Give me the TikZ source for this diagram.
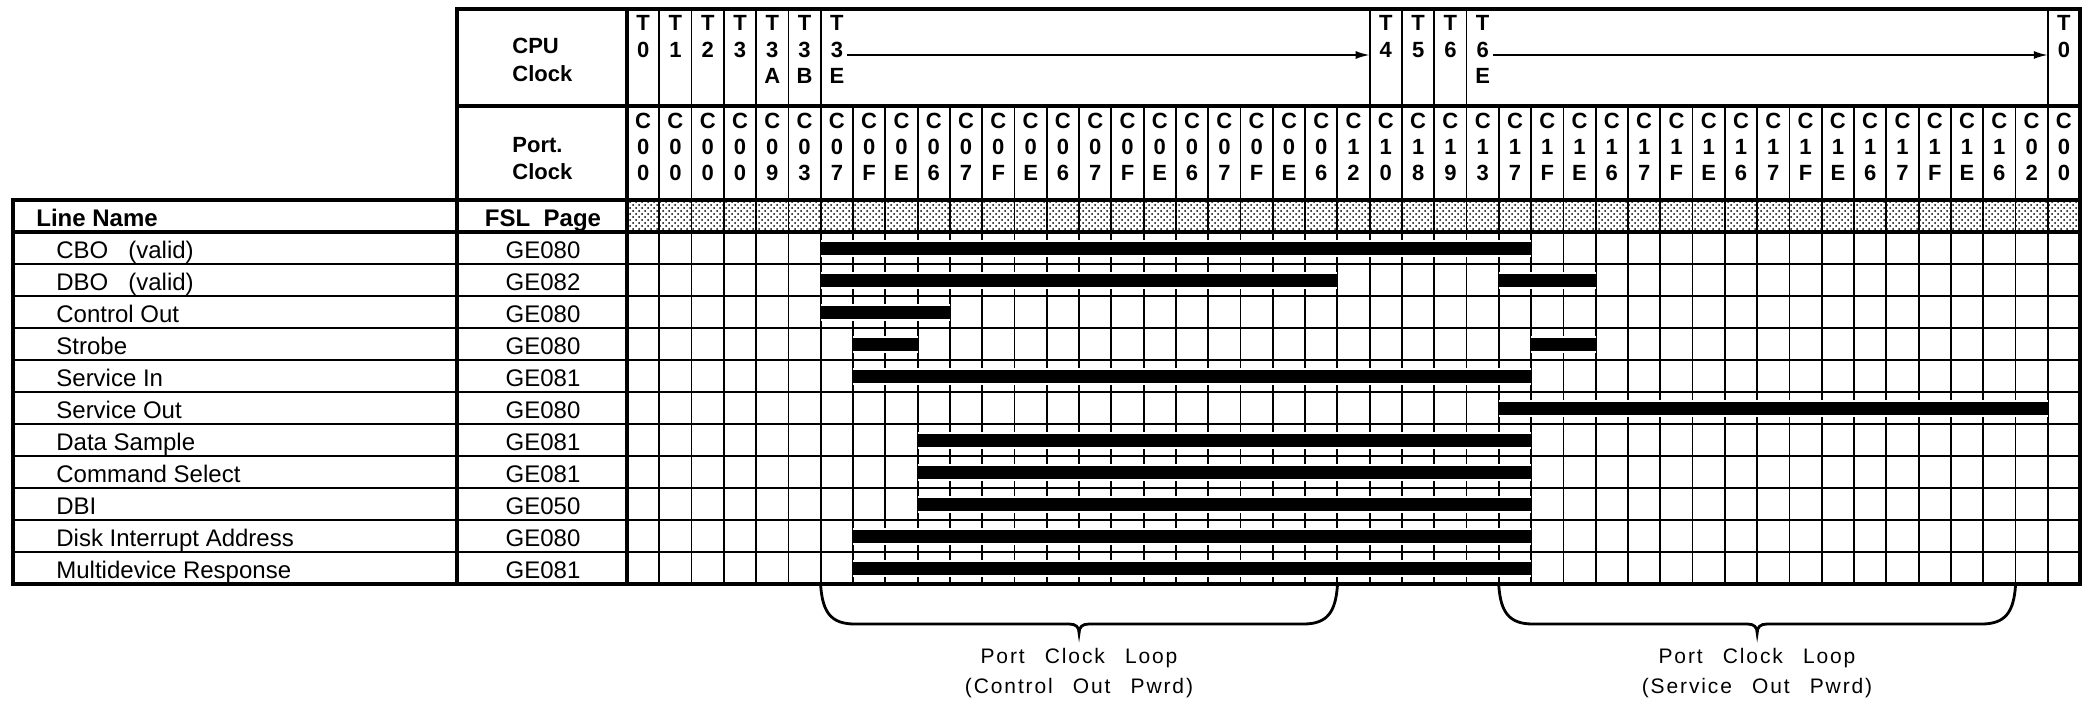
\documentclass[tikz,border=0pt]{standalone}
\usepackage{fontspec}
\setmainfont{Liberation Sans}
\newfontfamily\loopfont[LetterSpace=9,WordSpace=2.6]{Liberation Sans}
\usetikzlibrary{arrows.meta, patterns}

\tikzset{
  gridline/.style={line width=0.9pt},
  frameline/.style={line width=1.6pt},
  clockchar/.style={font=\bfseries\fontsize{11}{12}\selectfont, inner sep=0pt, text height=7.9pt, text depth=0pt},
  headtext/.style={font=\bfseries\fontsize{11}{12}\selectfont, inner sep=0pt, anchor=west, text height=7.9pt, text depth=0pt},
  colhead/.style={font=\bfseries\fontsize{12}{13}\selectfont, inner sep=0pt, text height=8.6pt, text depth=0pt},
  linename/.style={font=\fontsize{12}{13}\selectfont, inner sep=0pt, anchor=west, text height=8.6pt, text depth=0pt},
  fslpage/.style={font=\fontsize{12}{13}\selectfont, inner sep=0pt, text height=8.6pt, text depth=0pt},
  sigbar/.style={fill=black},
  sighalo/.style={fill=white},
  looptext/.style={font=\loopfont\fontsize{10.5}{12}\selectfont, inner sep=0pt},
  braceline/.style={line width=1.4pt, line cap=round},
  spanarrow/.style={line width=0.9pt, -{Latex[length=7pt,width=4pt]}}
}

\begin{document}
\begin{tikzpicture}[x=0.5pt, y=-0.5pt] % one unit = one pixel of the sheet, y runs downwards
  \useasboundingbox (0,0) rectangle (2093,712);
  \def\cw{32.29} % column width

  % 1. Stippled band next to FSL Page
  \fill[pattern=crosshatch dots, pattern color=black] (627,200) rectangle (2080,232);

  % 2. Grid lines
  \foreach \k in {1,...,44}
    \draw[gridline] ({627+\k*\cw},106) -- ({627+\k*\cw},584);
  \foreach \k in {1,...,6,23,24,25,26,44}
    \draw[gridline] ({627+\k*\cw},9) -- ({627+\k*\cw},106);
  \foreach \r in {1,...,10}
    \draw[gridline] (13,{232+32*\r}) -- (2080,{232+32*\r});

  % 3. Signal bars (row / first column / last column)
  \foreach \r/\a/\b in {1/7/28, 2/7/22, 2/28/30, 3/7/10, 4/8/9, 4/29/30, 5/8/28,
                        6/28/44, 7/10/28, 8/10/28, 9/10/28, 10/8/28, 11/8/28} {
    \fill[sighalo] ({627+(\a-1)*\cw},{216+32*\r-8.5}) rectangle ({627+\b*\cw},{216+32*\r+8.5});
    \fill[sigbar] ({627+(\a-1)*\cw},{216+32*\r-6.5}) rectangle ({627+\b*\cw},{216+32*\r+6.5});
  }

  % 4. Frames
  \draw[frameline] (457,9) rectangle (2080,584);
  \draw[frameline] (13,200) rectangle (2080,584);
  \draw[frameline] (13,232) -- (2080,232);
  \draw[frameline] (457,106) -- (2080,106);
  \draw[frameline] (627,9) -- (627,584);

  % 5. Clock headings
  \node[headtext] (cpu) at (512,46) {CPU};
  \node[headtext] (cpuclock) at (512,74) {Clock};
  \node[headtext] (port) at (512,145) {Port.};
  \node[headtext] (portclock) at (512,172) {Clock};

  \foreach \c/\d in {1/0,2/1,3/2,4/3,5/3,6/3,7/3,24/4,25/5,26/6,27/6,45/0} {
    \node[clockchar] (cpuT\c) at ({627+(\c-0.5)*\cw},23) {T};
    \node[clockchar] (cpuD\c) at ({627+(\c-0.5)*\cw},50) {\d};
  }
  \foreach \c/\l in {5/A,6/B,7/E,27/E}
    \node[clockchar] (cpuL\c) at ({627+(\c-0.5)*\cw},76) {\l};

  \coordinate (t3eEnd) at ({627+23*\cw},55);
  \coordinate (t6eEnd) at ({627+44*\cw},55);
  \draw[spanarrow] (cpuD7.east) ++(4,5) -- (t3eEnd);
  \draw[spanarrow] (cpuD27.east) ++(4,5) -- (t6eEnd);

  \foreach \a/\b [count=\i] in {0/0,0/0,0/0,0/0,0/9,0/3,
      0/7,0/F,0/E,0/6,0/7,0/F,0/E,0/6,0/7,0/F,0/E,0/6,0/7,0/F,0/E,0/6,
      1/2,1/0,1/8,1/9,1/3,
      1/7,1/F,1/E,1/6,1/7,1/F,1/E,1/6,1/7,1/F,1/E,1/6,1/7,1/F,1/E,1/6,
      0/2,0/0} {
    \node[clockchar] (portC\i) at ({627+(\i-0.5)*\cw},121) {C};
    \node[clockchar] (portA\i) at ({627+(\i-0.5)*\cw},147) {\a};
    \node[clockchar] (portB\i) at ({627+(\i-0.5)*\cw},173) {\b};
  }

  % 6. Line names and FSL pages
  \node[colhead, anchor=west] (linehead) at (36,218) {Line Name};
  \node[colhead] (fslhead) at (543,218) {FSL\ \ Page};
  \foreach \name/\page [count=\r] in {CBO\ \ \ (valid)/GE080, DBO\ \ \ (valid)/GE082,
      Control Out/GE080, Strobe/GE080, Service In/GE081, Service Out/GE080,
      Data Sample/GE081, Command Select/GE081, DBI/GE050,
      Disk Interrupt Address/GE080, Multidevice Response/GE081} {
    \node[linename] (line\r) at (56,{218+32*\r}) {\name};
    \node[fslpage] (page\r) at (543,{218+32*\r}) {\page};
  }

  % 7. Loop braces
  \foreach \a/\b in {820.7/1337.4, 1498.8/2015.5} {
    \pgfmathsetmacro\m{(\a+\b)/2}
    \draw[braceline] (\a,586) .. controls ({\a+2},612) and ({\a+10},624) .. ({\a+34},624)
      -- ({\m-10},624) .. controls ({\m-3},624) and (\m,627) .. (\m,633)
      .. controls (\m,627) and ({\m+3},624) .. ({\m+10},624)
      -- ({\b-34},624) .. controls ({\b-10},624) and ({\b-2},612) .. (\b,586);
  }
  \node[looptext] (loop1a) at (1079,658) {Port Clock Loop};
  \node[looptext] (loop1b) at (1079,688) {(Control Out Pwrd)};
  \node[looptext] (loop2a) at (1757,658) {Port Clock Loop};
  \node[looptext] (loop2b) at (1757,688) {(Service Out Pwrd)};
\end{tikzpicture}
\end{document}
